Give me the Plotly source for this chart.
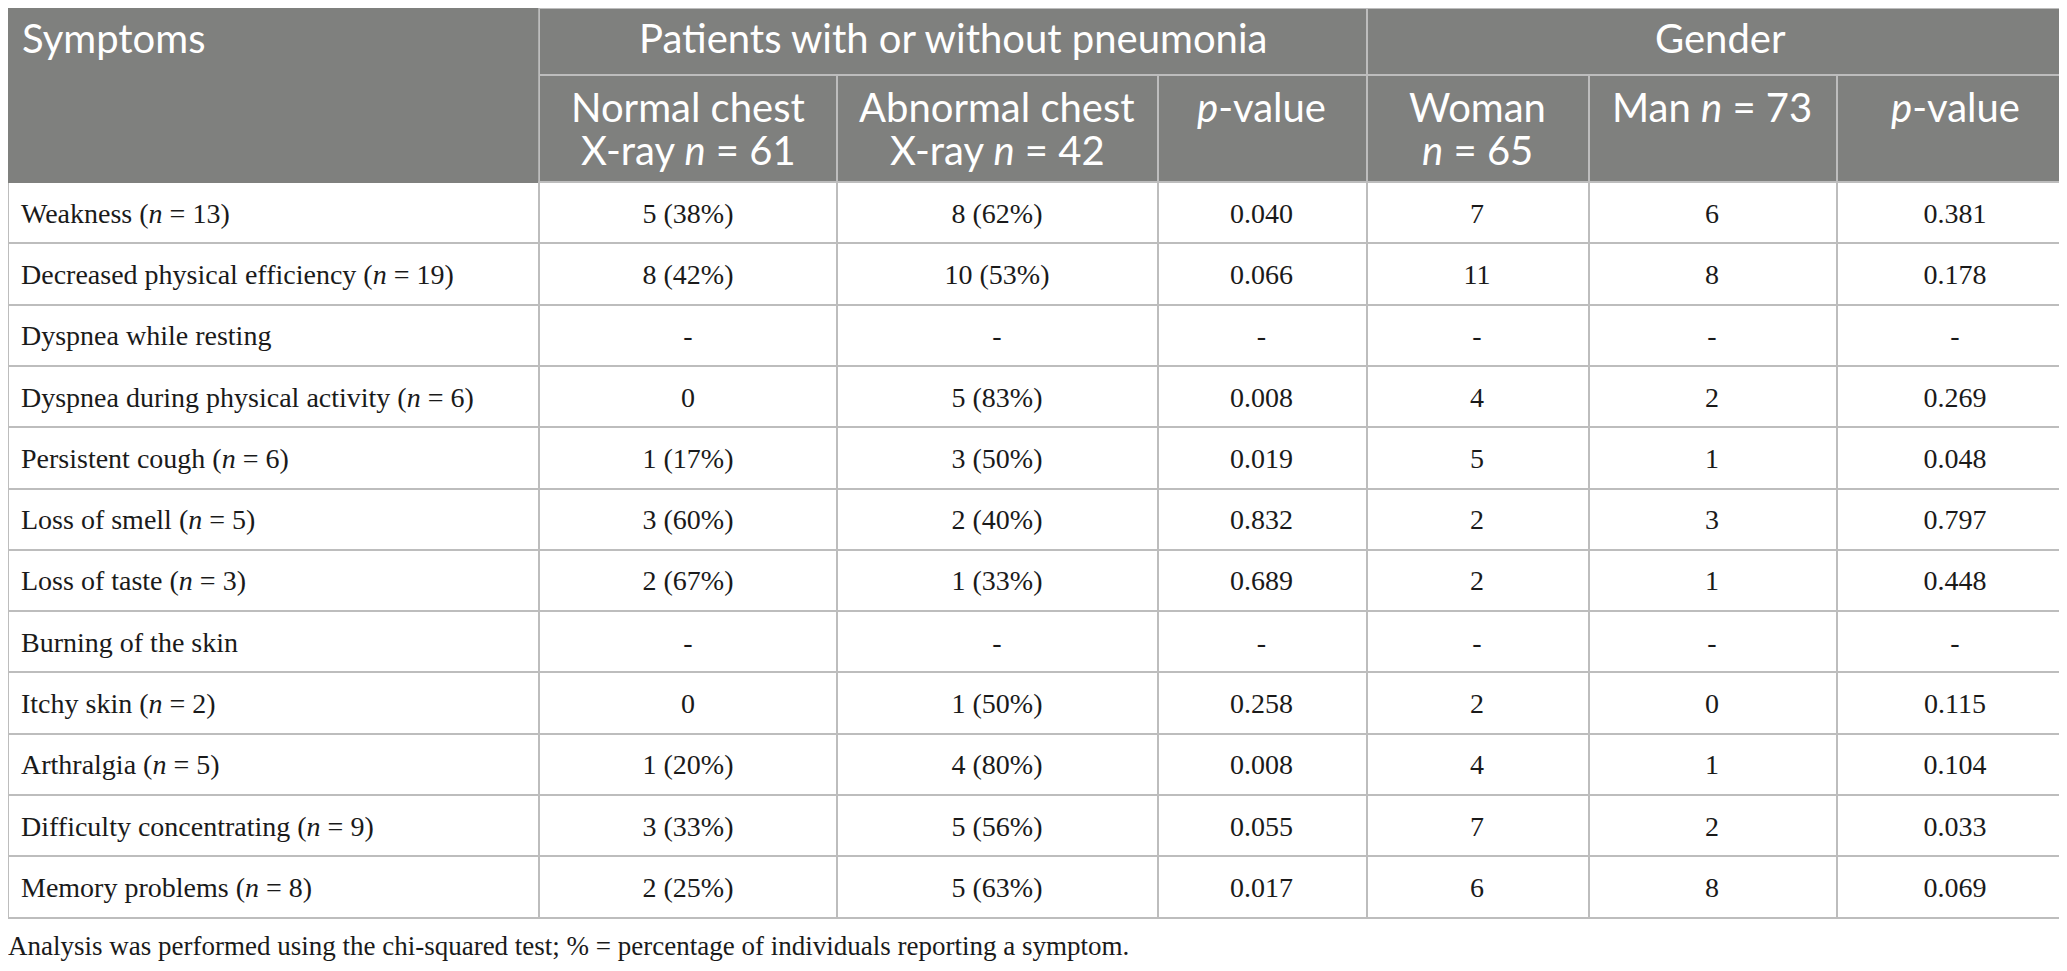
import plotly.graph_objects as go

# ---------------- data ----------------
group_headers = ["Symptoms", "Patients with or without pneumonia", "Gender"]
sub_headers = [[""], ["Normal chest", "X-ray <i>n</i> = 61"], ["Abnormal chest", "X-ray <i>n</i> = 42"],
               ["<i>p</i>-value"], ["Woman", "<i>n</i> = 65"], ["Man <i>n</i> = 73"], ["<i>p</i>-value"]]

symptoms = ["Weakness (<i>n</i> = 13)", "Decreased physical efficiency (<i>n</i> = 19)",
            "Dyspnea while resting", "Dyspnea during physical activity (<i>n</i> = 6)",
            "Persistent cough (<i>n</i> = 6)", "Loss of smell (<i>n</i> = 5)",
            "Loss of taste (<i>n</i> = 3)", "Burning of the skin", "Itchy skin (<i>n</i> = 2)",
            "Arthralgia (<i>n</i> = 5)", "Difficulty concentrating (<i>n</i> = 9)",
            "Memory problems (<i>n</i> = 8)"]
normal_xray = ["5 (38%)", "8 (42%)", "-", "0", "1 (17%)", "3 (60%)", "2 (67%)", "-", "0",
               "1 (20%)", "3 (33%)", "2 (25%)"]
abnormal_xray = ["8 (62%)", "10 (53%)", "-", "5 (83%)", "3 (50%)", "2 (40%)", "1 (33%)", "-",
                 "1 (50%)", "4 (80%)", "5 (56%)", "5 (63%)"]
p_pneumonia = ["0.040", "0.066", "-", "0.008", "0.019", "0.832", "0.689", "-", "0.258",
               "0.008", "0.055", "0.017"]
woman = ["7", "11", "-", "4", "5", "2", "2", "-", "2", "4", "7", "6"]
man = ["6", "8", "-", "2", "1", "3", "1", "-", "0", "1", "2", "8"]
p_gender = ["0.381", "0.178", "-", "0.269", "0.048", "0.797", "0.448", "-", "0.115",
            "0.104", "0.033", "0.069"]
footnote = ("Analysis was performed using the chi-squared test; % = percentage of "
            "individuals reporting a symptom.")

# ---------------- style ----------------
W, H = 2067, 971
HEAD_FILL = "#7f807e"
LINE = "#bdbdbd"
HEAD_FONT = dict(family="Lato", size=40, color="white")
BODY_FONT = dict(family="Liberation Serif", size=28, color="#1a1a1a")
col_w = [531, 298, 320, 209, 222, 248, 238]
group_w = [col_w[0], sum(col_w[1:4]), sum(col_w[4:7])]
h1, h2, row_h = 67, 107, 61.3
TABLE_DROP = 7            # plotly renders tables a few px below their domain top
TEXT_LIFT = 6             # optical centring of text inside rows
LEFT_PAD = 13

def py(px):
    return 1 - px / H

edges = [0]
for w in col_w:
    edges.append(edges[-1] + w)
gedges = [0]
for w in group_w:
    gedges.append(gedges[-1] + w)

n_rows = len(symptoms)
body_top = TABLE_DROP + h1 + h2 + 2
body_bottom = body_top + n_rows * row_h

fig = go.Figure()

# grid: header row 1
fig.add_trace(go.Table(
    domain=dict(x=[0, 1], y=[py(h1 + 1), 1]),
    columnwidth=group_w,
    header=dict(values=[""] * 3, fill_color=HEAD_FILL,
                line=dict(color=[HEAD_FILL, LINE, LINE], width=2), height=h1),
    cells=dict(values=[[], [], []]),
))
# grid: header row 2 + body cells
fig.add_trace(go.Table(
    domain=dict(x=[0, 1], y=[0, py(h1)]),
    columnwidth=col_w,
    header=dict(values=[""] * 7, fill_color=HEAD_FILL,
                line=dict(color=[HEAD_FILL] + [LINE] * 6, width=2), height=h2),
    cells=dict(values=[[""] * n_rows for _ in col_w],
               fill_color="rgba(0,0,0,0)", line=dict(color=LINE, width=2),
               height=row_h),
))

# body text, placed on row-index axis so it is centred in each row
rows = list(range(n_rows))
columns = [symptoms, normal_xray, abnormal_xray, p_pneumonia, woman, man, p_gender]
for k, col in enumerate(columns):
    if k == 0:
        xs, pos = [edges[0] + LEFT_PAD] * n_rows, "middle right"
    else:
        xs, pos = [(edges[k] + edges[k + 1]) / 2] * n_rows, "middle center"
    fig.add_trace(go.Scatter(x=xs, y=rows, mode="text", text=col, textposition=pos,
                             textfont=BODY_FONT, hoverinfo="skip", showlegend=False,
                             cliponaxis=False))

fig.update_xaxes(range=[0, W], visible=False, fixedrange=True, domain=[0, 1])
fig.update_yaxes(range=[n_rows - 0.5, -0.5], visible=False, fixedrange=True,
                 domain=[py(body_bottom - TEXT_LIFT), py(body_top - TEXT_LIFT)])

# header texts (centred, one annotation per line)
row1_mid = 30
for i, txt in enumerate(group_headers):
    if i == 0:
        fig.add_annotation(text=txt, x=0, xanchor="left", xshift=12, y=py(row1_mid),
                           xref="paper", yref="paper", yanchor="middle",
                           showarrow=False, font=HEAD_FONT)
    else:
        fig.add_annotation(text=txt, x=(gedges[i] + gedges[i + 1]) / 2 / W, xanchor="center",
                           y=py(row1_mid), xref="paper", yref="paper", yanchor="middle",
                           showarrow=False, font=HEAD_FONT)

line_mids = [99, 142]
for i, lines in enumerate(sub_headers):
    for j, txt in enumerate(lines):
        if not txt:
            continue
        fig.add_annotation(text=txt, x=(edges[i] + edges[i + 1]) / 2 / W, xanchor="center",
                           y=py(line_mids[j]), xref="paper", yref="paper", yanchor="middle",
                           showarrow=False, font=HEAD_FONT)

fig.add_annotation(text=footnote, x=0, xref="paper", xanchor="left", xshift=-2,
                   y=py(938), yref="paper", yanchor="middle", showarrow=False,
                   font=dict(family="Liberation Serif", size=27, color="#1a1a1a"))

fig.update_layout(width=W, height=H, margin=dict(l=0, r=0, t=0, b=0),
                  paper_bgcolor="white", plot_bgcolor="rgba(0,0,0,0)")
fig.write_html("out.html")
